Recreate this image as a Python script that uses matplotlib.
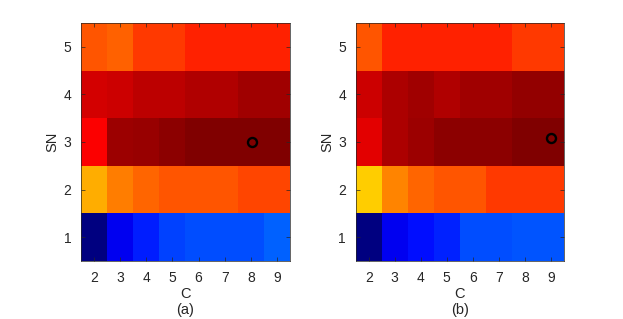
import numpy as np
import matplotlib
matplotlib.use("Agg")
import matplotlib.pyplot as plt
from matplotlib.colors import LinearSegmentedColormap

plt.rcParams['font.family'] = ['Liberation Sans', 'DejaVu Sans']

# C on x, SN on y
c_values = [2, 3, 4, 5, 6, 7, 8, 9]
sn_values = [1, 2, 3, 4, 5]

# normalized scores (rows: SN=1..5, cols: C=2..9)
scores_a = [
    [0.00, 0.11, 0.155, 0.19, 0.20, 0.20, 0.20, 0.22],
    [0.705, 0.75, 0.775, 0.79, 0.79, 0.79, 0.805, 0.805],
    [0.875, 0.97, 0.975, 0.985, 1.00, 1.00, 1.00, 1.00],
    [0.915, 0.925, 0.94, 0.94, 0.95, 0.95, 0.965, 0.965],
    [0.79, 0.78, 0.82, 0.82, 0.84, 0.84, 0.84, 0.84],
]
scores_b = [
    [0.00, 0.11, 0.14, 0.16, 0.20, 0.20, 0.21, 0.21],
    [0.675, 0.745, 0.775, 0.79, 0.79, 0.82, 0.82, 0.82],
    [0.90, 0.955, 0.97, 0.985, 0.985, 0.985, 1.00, 1.00],
    [0.925, 0.955, 0.965, 0.95, 0.965, 0.965, 0.98, 0.98],
    [0.79, 0.84, 0.84, 0.84, 0.84, 0.84, 0.82, 0.82],
]
# best point markers (C, SN)
best_a = (8.05, 3.0)
best_b = (9.0, 3.08)
panel_labels = ['(a)', '(b)']

# matlab style jet
mjet = LinearSegmentedColormap('mjet', {
    'red': [(0, 0, 0), (3/8, 0, 0), (5/8, 1, 1), (7/8, 1, 1), (1, 0.5, 0.5)],
    'green': [(0, 0, 0), (1/8, 0, 0), (3/8, 1, 1), (5/8, 1, 1), (7/8, 0, 0), (1, 0, 0)],
    'blue': [(0, 0.5, 0.5), (1/8, 1, 1), (3/8, 1, 1), (5/8, 0, 0), (1, 0, 0)],
}, N=256)

fig = plt.figure(figsize=(6.23, 3.19), dpi=100)
positions = [[0.130, 0.182, 0.3355, 0.746], [0.571, 0.182, 0.334, 0.746]]

for pos, scores, best, lab in zip(positions, [scores_a, scores_b],
                                  [best_a, best_b], panel_labels):
    ax = fig.add_axes(pos)
    data = np.array(scores)
    xe = np.arange(c_values[0] - 0.5, c_values[-1] + 1.0)
    ye = np.arange(sn_values[0] - 0.5, sn_values[-1] + 1.0)
    ax.pcolormesh(xe, ye, data, cmap=mjet, vmin=0, vmax=1, shading='flat')
    ax.plot(best[0], best[1], 'o', mfc='none', mec='black', ms=6.5, mew=1.7)
    ax.set_xlim(xe[0], xe[-1])
    ax.set_ylim(ye[0], ye[-1])
    ax.set_xticks(c_values)
    ax.set_yticks(sn_values)
    ax.tick_params(direction='in', top=True, right=True, length=3,
                   width=0.5, labelsize=10, pad=7, colors='#262626',
                   labelcolor='#262626')
    for s in ax.spines.values():
        s.set_linewidth(0.5)
        s.set_color('#262626')
    ax.set_xlabel('C\n' + lab, fontsize=10.5, labelpad=2, color='#262626',
                  linespacing=1.15)
    ax.set_ylabel('SN', fontsize=10.5, labelpad=3, color='#262626')

fig.savefig('out.png', dpi=100)
